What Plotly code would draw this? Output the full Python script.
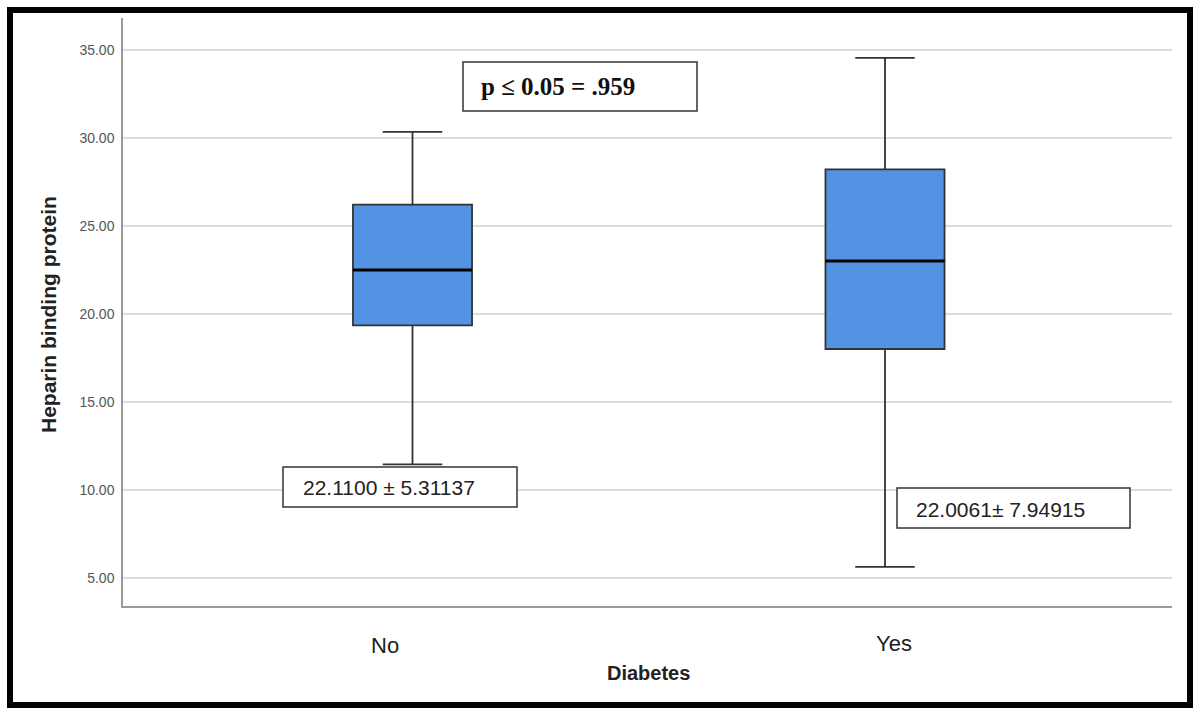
import plotly.graph_objects as go

# ---- data ----
categories = ["No", "Yes"]
positions = [0, 1]
upper_whisker = [30.35, 34.55]
q3_values = [26.22, 28.22]
medians = [22.50, 23.01]
q1_values = [19.35, 18.01]
lower_whisker = [11.46, 5.63]
y_ticks = [5, 10, 15, 20, 25, 30, 35]
stat_labels = ["22.1100 \u00b1 5.31137", "22.0061\u00b1 7.94915"]
p_label = "p \u2264 0.05 = .959"
x_title = "Diabetes"
y_title = "Heparin binding protein"

W, H = 1200, 709
L, R, T, B = 123, 1172, 18, 606
box_w = 0.252

def px(xp):
    return (xp - L) / (R - L)

def py(yp):
    return (B - yp) / (B - T)

fig = go.Figure()
for i, cat in enumerate(categories):
    fig.add_trace(go.Box(
        x=[positions[i]], q1=[q1_values[i]], median=[medians[i]], q3=[q3_values[i]],
        lowerfence=[lower_whisker[i]], upperfence=[upper_whisker[i]],
        name=cat, width=box_w, whiskerwidth=0.5,
        fillcolor="#5293E3", line=dict(color="#333333", width=1.8),
        boxpoints=False, showlegend=False, hoverinfo="skip",
    ))
    # thicker black median line
    fig.add_trace(go.Scatter(
        x=[positions[i] - box_w / 2, positions[i] + box_w / 2],
        y=[medians[i], medians[i]], mode="lines",
        line=dict(color="#000000", width=3), showlegend=False, hoverinfo="skip",
    ))

shapes = [
    # outer black frame
    dict(type="rect", xref="paper", yref="paper",
         x0=px(10), x1=px(1190), y0=py(705), y1=py(10),
         line=dict(color="#000000", width=6), fillcolor="rgba(0,0,0,0)", layer="above"),
    # p value box
    dict(type="rect", xref="paper", yref="paper",
         x0=px(463), x1=px(697), y0=py(111), y1=py(62),
         line=dict(color="#333333", width=1.5), fillcolor="white", layer="above"),
    # stat boxes
    dict(type="rect", xref="paper", yref="paper",
         x0=px(283), x1=px(517), y0=py(507), y1=py(467),
         line=dict(color="#333333", width=1.5), fillcolor="white", layer="above"),
    dict(type="rect", xref="paper", yref="paper",
         x0=px(897), x1=px(1130), y0=py(528), y1=py(488),
         line=dict(color="#333333", width=1.5), fillcolor="white", layer="above"),
]

annotations = [
    dict(text="<b>" + p_label + "</b>", xref="paper", yref="paper",
         x=px(479), y=py(87), xanchor="left", yanchor="middle", showarrow=False,
         font=dict(family="Liberation Serif", size=25, color="#111111")),
    dict(text=stat_labels[0], xref="paper", yref="paper",
         x=px(301), y=py(487), xanchor="left", yanchor="middle", showarrow=False,
         font=dict(family="Liberation Sans", size=21, color="#222222")),
    dict(text=stat_labels[1], xref="paper", yref="paper",
         x=px(914), y=py(509), xanchor="left", yanchor="middle", showarrow=False,
         font=dict(family="Liberation Sans", size=21, color="#222222")),
    # category labels
    dict(text=categories[0], xref="x", yref="paper",
         x=positions[0] - 0.058, y=py(645), xanchor="center", yanchor="middle", showarrow=False,
         font=dict(family="Liberation Sans", size=22, color="#222222")),
    dict(text=categories[1], xref="x", yref="paper",
         x=positions[1] + 0.019, y=py(643), xanchor="center", yanchor="middle", showarrow=False,
         font=dict(family="Liberation Sans", size=22, color="#222222")),
    # axis titles
    dict(text="<b>" + x_title + "</b>", xref="paper", yref="paper",
         x=px(648), y=py(673), xanchor="center", yanchor="middle", showarrow=False,
         font=dict(family="Liberation Sans", size=20, color="#222222")),
    dict(text="<b>" + y_title + "</b>", xref="paper", yref="paper",
         x=px(49), y=py(315), xanchor="center", yanchor="middle", showarrow=False,
         textangle=-90,
         font=dict(family="Liberation Sans", size=21, color="#222222")),
]

span = 472.5
fig.update_layout(
    width=W, height=H,
    margin=dict(l=L, r=W - R, t=T, b=H - B),
    paper_bgcolor="white", plot_bgcolor="white",
    shapes=shapes, annotations=annotations,
    xaxis=dict(range=[(L - 412.5) / span, 1 + (R - 885) / span],
               showgrid=False, zeroline=False, showticklabels=False,
               showline=True, linecolor="#9a9a9a", linewidth=1.5, ticks=""),
    yaxis=dict(range=[5 - (B - 578) / 17.6, 35 + (50 - T) / 17.6],
               tickvals=y_ticks, ticktext=["%.2f" % v for v in y_ticks],
               showgrid=True, gridcolor="#dcdcdc", gridwidth=1.5, zeroline=False,
               showline=True, linecolor="#9a9a9a", linewidth=1.5, ticks="",
               ticklabelstandoff=4,
               tickfont=dict(family="Liberation Sans", size=14, color="#555555")),
)

fig.write_html("out.html",
               config={"displayModeBar": False},
               post_script="document.body.style.margin='0';document.body.style.padding='0';"
                           "document.body.style.overflow='hidden';")
